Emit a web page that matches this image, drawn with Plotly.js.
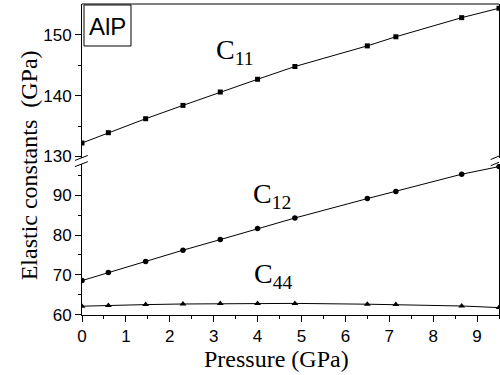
<!DOCTYPE html>
<html><head><meta charset="utf-8">
<script src="https://cdn.plot.ly/plotly-3.0.1.min.js"></script>
<style>body{margin:0;padding:0;background:#fff}#chart{width:500px;height:375px}</style>
</head><body><div id="chart"></div>
<script>
const pressure = [0, 0.6, 1.45, 2.3, 3.15, 4.0, 4.85, 6.5, 7.15, 8.65, 9.5];
const c11 = [132.2, 133.9, 136.2, 138.4, 140.6, 142.7, 144.8, 148.2, 149.7, 152.85, 154.4];
const c12 = [68.6, 70.6, 73.35, 76.2, 78.85, 81.6, 84.25, 89.1, 90.9, 95.2, 97.1];
const c44 = [62.2, 62.4, 62.6, 62.75, 62.85, 62.9, 62.9, 62.7, 62.6, 62.25, 61.85];
const xTicks = [0,1,2,3,4,5,6,7,8,9];
const lowerTicks = [60,70,80,90];
const upperTicks = [130,140,150];

const line = {color:'black', width:1};
const traces = [
  {x:pressure, y:c11, yaxis:'y2', mode:'lines+markers', line:line, marker:{symbol:'square', size:5, color:'black'}},
  {x:pressure, y:c12, yaxis:'y', mode:'lines+markers', line:line, marker:{symbol:'circle', size:5.5, color:'black'}},
  {x:pressure, y:c44, yaxis:'y', mode:'lines+markers', line:line, marker:{symbol:'triangle-up', size:6, color:'black'}}
];
const tickFont = {family:'Liberation Sans, Arial', size:17, color:'black'};
const lowTop = 0.4855, upBot = 0.505;
const serif = 'Liberation Serif, Times New Roman, serif';
const layout = {
  width:500, height:375, showlegend:false,
  margin:{l:82, r:1, t:4, b:60},
  paper_bgcolor:'white', plot_bgcolor:'white',
  xaxis:{range:[0,9.5], tickvals:xTicks, ticks:'outside', ticklen:6, tickcolor:'black', showgrid:false, zeroline:false,
    showline:true, linecolor:'black', linewidth:1, tickfont:tickFont,
    minor:{dtick:0.5, tick0:0, ticks:'outside', ticklen:3, tickcolor:'black'}},
  yaxis:{domain:[0,lowTop], range:[60,97.75], tickvals:lowerTicks, ticks:'outside', ticklen:6, tickcolor:'black', showgrid:false, zeroline:false,
    showline:true, mirror:true, linecolor:'black', linewidth:1, tickfont:tickFont,
    minor:{tickvals:[65,75,85,95], ticks:'outside', ticklen:3, tickcolor:'black'}},
  yaxis2:{domain:[upBot,1], range:[129.74,155.1], tickvals:upperTicks, ticks:'outside', ticklen:6, tickcolor:'black', showgrid:false, zeroline:false,
    showline:true, mirror:true, linecolor:'black', linewidth:1, tickfont:tickFont, anchor:'x',
    minor:{tickvals:[135,145], ticks:'outside', ticklen:3, tickcolor:'black'}},
  shapes:[
    {type:'line', xref:'paper', yref:'paper', x0:0, x1:1, y0:1, y1:1, line:{color:'black', width:1}},
    {type:'line', xref:'paper', yref:'paper', x0:-0.017, x1:0.014, y0:0.477, y1:0.493, line:{color:'black', width:1}},
    {type:'line', xref:'paper', yref:'paper', x0:-0.017, x1:0.014, y0:0.497, y1:0.513, line:{color:'black', width:1}},
    {type:'line', xref:'paper', yref:'paper', x0:0.98, x1:1.0, y0:0.480, y1:0.491, line:{color:'black', width:1}},
    {type:'line', xref:'paper', yref:'paper', x0:0.98, x1:1.0, y0:0.500, y1:0.511, line:{color:'black', width:1}},
    {type:'rect', xref:'paper', yref:'paper', x0:0.0048, x1:0.1175, y0:0.865, y1:0.9968, line:{color:'black', width:1}, fillcolor:'rgba(0,0,0,0)'}
  ],
  annotations:[
    {text:'AlP', xref:'paper', yref:'paper', x:0.061, y:0.929, xanchor:'center', yanchor:'middle', showarrow:false,
     font:{family:'Liberation Sans, Arial', size:24, color:'black'}},
    {text:'C<sub>11</sub>', xref:'x', yref:'y2', x:3.0, y:147.3, xanchor:'left', yanchor:'middle', showarrow:false,
     font:{family:serif, size:28, color:'black'}},
    {text:'C<sub>12</sub>', xref:'x', yref:'y', x:3.85, y:89.8, xanchor:'left', yanchor:'middle', showarrow:false,
     font:{family:serif, size:28, color:'black'}},
    {text:'C<sub>44</sub>', xref:'x', yref:'y', x:3.87, y:69.8, xanchor:'left', yanchor:'middle', showarrow:false,
     font:{family:serif, size:28, color:'black'}},
    {text:'Pressure (GPa)', xref:'paper', yref:'paper', x:0.467, y:-0.142, xanchor:'center', yanchor:'middle', showarrow:false,
     font:{family:serif, size:24, color:'black'}},
    {text:'Elastic constants  (GPa)', xref:'paper', yref:'paper', x:-0.128, y:0.48, xanchor:'center', yanchor:'middle', textangle:-90, showarrow:false,
     font:{family:serif, size:24, color:'black'}}
  ]
};
Plotly.newPlot('chart', traces, layout, {displayModeBar:false, staticPlot:true});
</script></body></html>
